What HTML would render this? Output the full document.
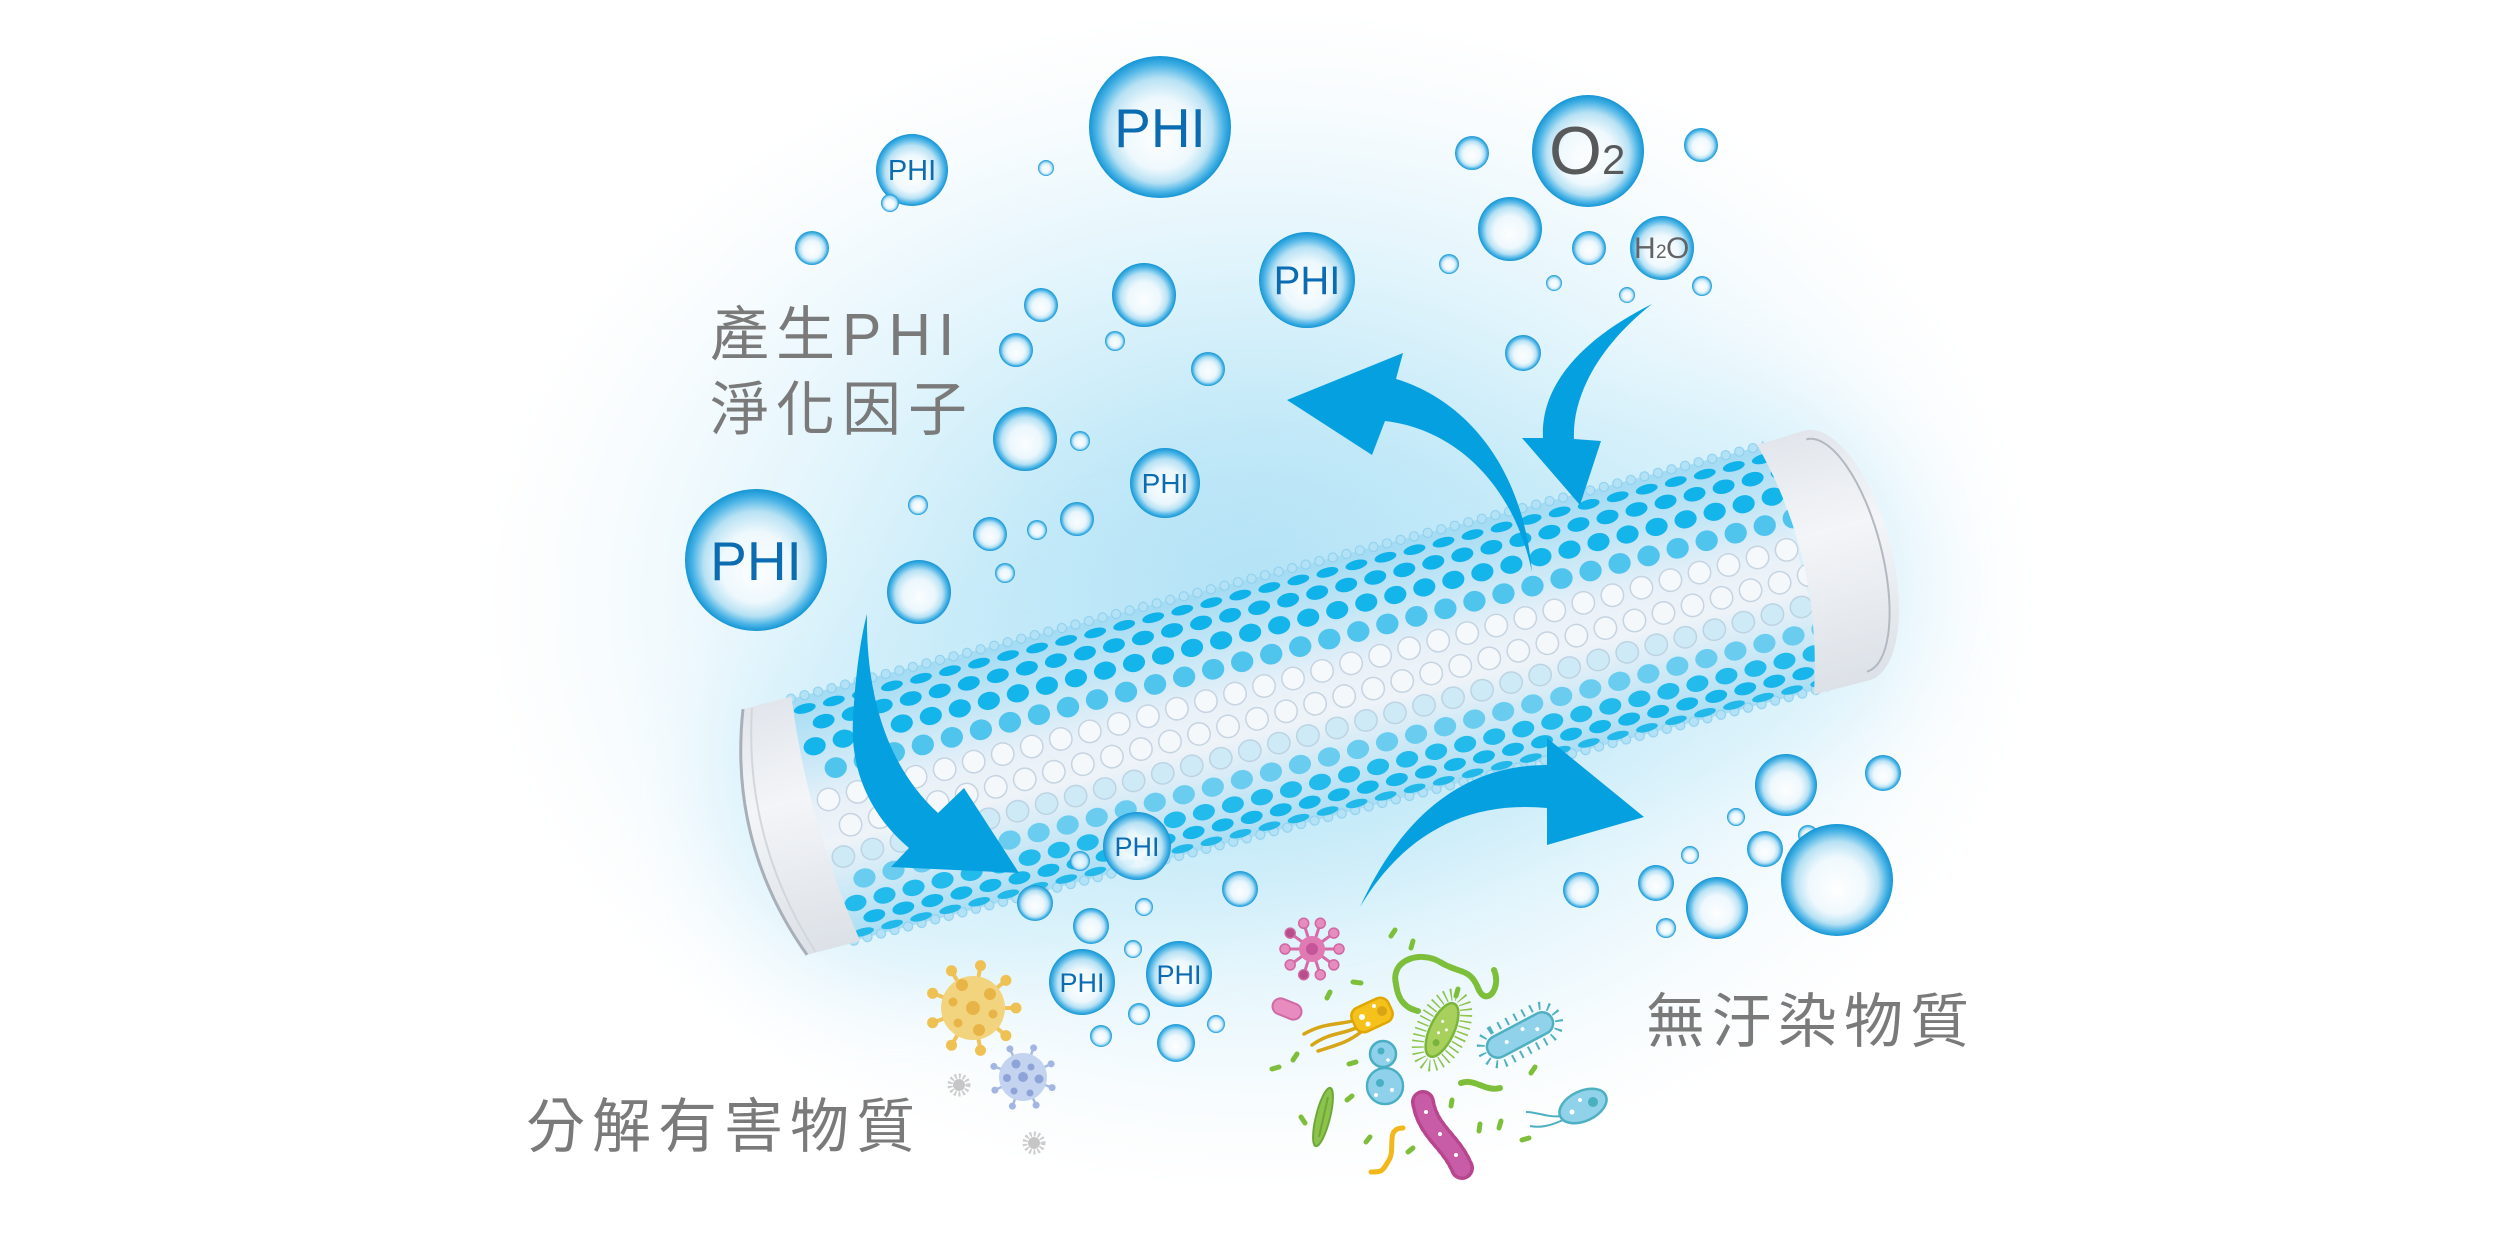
<!DOCTYPE html>
<html><head><meta charset="utf-8">
<style>
html,body{margin:0;padding:0;background:#fff;}
body{width:2500px;height:1250px;overflow:hidden;}
svg{display:block;}
.lbl{font-family:"Liberation Sans","Noto Sans CJK TC",sans-serif;font-size:59px;fill:#7a7a7a;letter-spacing:7px;}
.phi{font-family:"Liberation Sans",sans-serif;fill:#0b6cb2;text-anchor:middle;}
</style></head>
<body>
<svg width="2500" height="1250" viewBox="0 0 2500 1250" xmlns="http://www.w3.org/2000/svg">
<defs>
  <radialGradient id="bgG" cx="0.5" cy="0.5" r="0.5">
    <stop offset="0" stop-color="#acdff5"/>
    <stop offset="0.3" stop-color="#c3e9f8"/>
    <stop offset="0.6" stop-color="#e3f5fc"/>
    <stop offset="0.85" stop-color="#f8fcfe"/>
    <stop offset="1" stop-color="#ffffff"/>
  </radialGradient>
  <radialGradient id="bub" cx="0.5" cy="0.5" r="0.5" fx="0.5" fy="0.6">
    <stop offset="0" stop-color="#ffffff" stop-opacity="0.92"/>
    <stop offset="0.5" stop-color="#eef8fd" stop-opacity="0.9"/>
    <stop offset="0.74" stop-color="#b6e1f4"/>
    <stop offset="0.9" stop-color="#47b2e5"/>
    <stop offset="1" stop-color="#1595d5"/>
  </radialGradient>
  <linearGradient id="meshG" x1="0" y1="0" x2="0" y2="1">
    <stop offset="0" stop-color="#a2dbf3"/>
    <stop offset="0.2" stop-color="#c0e5f6"/>
    <stop offset="0.45" stop-color="#e9f1f8"/>
    <stop offset="0.6" stop-color="#eef3f8"/>
    <stop offset="0.8" stop-color="#cbe8f6"/>
    <stop offset="1" stop-color="#a8ddf4"/>
  </linearGradient>
  <linearGradient id="capG" x1="0" y1="0" x2="0" y2="1">
    <stop offset="0" stop-color="#e2e6ec"/>
    <stop offset="0.4" stop-color="#f3f5f8"/>
    <stop offset="1" stop-color="#dce1e7"/>
  </linearGradient>
  <filter id="blur" x="-30%" y="-60%" width="160%" height="220%">
    <feGaussianBlur stdDeviation="45"/>
  </filter>
  <pattern id="bumpP" patternUnits="userSpaceOnUse" x="0" y="0" width="14" height="10">
    <circle cx="7" cy="5" r="4.6" fill="#b3e1f5" stroke="#8ccfee" stroke-width="1"/>
  </pattern>
  <g id="dr">
    <circle cx="0" cy="0" r="11.2"/><circle cx="30" cy="0" r="11.2"/><circle cx="60" cy="0" r="11.2"/><circle cx="90" cy="0" r="11.2"/><circle cx="120" cy="0" r="11.2"/><circle cx="150" cy="0" r="11.2"/><circle cx="180" cy="0" r="11.2"/><circle cx="210" cy="0" r="11.2"/><circle cx="240" cy="0" r="11.2"/><circle cx="270" cy="0" r="11.2"/><circle cx="300" cy="0" r="11.2"/><circle cx="330" cy="0" r="11.2"/><circle cx="360" cy="0" r="11.2"/><circle cx="390" cy="0" r="11.2"/><circle cx="420" cy="0" r="11.2"/><circle cx="450" cy="0" r="11.2"/><circle cx="480" cy="0" r="11.2"/><circle cx="510" cy="0" r="11.2"/><circle cx="540" cy="0" r="11.2"/><circle cx="570" cy="0" r="11.2"/><circle cx="600" cy="0" r="11.2"/><circle cx="630" cy="0" r="11.2"/><circle cx="660" cy="0" r="11.2"/><circle cx="690" cy="0" r="11.2"/><circle cx="720" cy="0" r="11.2"/><circle cx="750" cy="0" r="11.2"/><circle cx="780" cy="0" r="11.2"/><circle cx="810" cy="0" r="11.2"/><circle cx="840" cy="0" r="11.2"/><circle cx="870" cy="0" r="11.2"/><circle cx="900" cy="0" r="11.2"/><circle cx="930" cy="0" r="11.2"/><circle cx="960" cy="0" r="11.2"/><circle cx="990" cy="0" r="11.2"/>
  </g>
</defs>

<rect x="0" y="0" width="2500" height="1250" fill="#ffffff"/>
<ellipse cx="1260" cy="600" rx="780" ry="590" fill="url(#bgG)"/>

<g transform="translate(775,832) rotate(-14.6)">
  <rect x="-60" y="-190" width="1240" height="380" rx="190" fill="#bfe8f8" opacity="0.4" filter="url(#blur)"/>
  <rect x="40" y="-125" width="1020" height="250" fill="url(#meshG)"/>
  <rect x="40" y="-130" width="1015" height="10" fill="url(#bumpP)"/>
  <rect x="40" y="120" width="1015" height="10" fill="url(#bumpP)"/>
  <use href="#dr" transform="translate(60,-112) scale(1,0.42)" fill="#0fb2e9"/>
  <use href="#dr" transform="translate(75,-95) scale(1,0.62)" fill="#0fb2e9"/>
  <use href="#dr" transform="translate(60,-73) scale(1,0.80)" fill="#14b5ea"/>
  <use href="#dr" transform="translate(75,-47) scale(1,0.92)" fill="#4fc4ed"/>
  <use href="#dr" transform="translate(60,-18) scale(1,1)" fill="#f6f9fc" stroke="#c6d4e1" stroke-width="1.5"/>
  <use href="#dr" transform="translate(75,12) scale(1,1)" fill="#f4f8fb" stroke="#c6d4e1" stroke-width="1.5"/>
  <use href="#dr" transform="translate(60,41) scale(1,0.95)" fill="#cfeaf7" stroke="#bcd3e2" stroke-width="1.5"/>
  <use href="#dr" transform="translate(75,67) scale(1,0.85)" fill="#6acdf0"/>
  <use href="#dr" transform="translate(60,89) scale(1,0.72)" fill="#22bbeb"/>
  <use href="#dr" transform="translate(75,106) scale(1,0.55)" fill="#16b5ea"/>
  <use href="#dr" transform="translate(60,119) scale(1,0.35)" fill="#22b9ea"/>
  <path d="M50,-127 L0,-127 Q-48,0 0,127 L55,127 Q34,0 50,-127 Z" fill="url(#capG)"/>
  <path d="M0,-127 Q-48,0 0,127" fill="none" stroke="#a9afb8" stroke-width="3"/>
  <path d="M9,-126 Q-32,0 9,126" fill="none" stroke="#d2d7dd" stroke-width="2"/>
  <path d="M1048,-127 L1097,-129 A55,129 0 0 1 1097,129 L1040,129 Q1082,0 1048,-127 Z" fill="url(#capG)"/>
  <path d="M1097,-120 A45,120 0 0 1 1097,120" fill="none" stroke="#b3b9c1" stroke-width="2"/>
</g>

<g>
  <circle cx="1160" cy="127" r="71" fill="url(#bub)"/>
  <circle cx="912" cy="170" r="36" fill="url(#bub)"/>
  <circle cx="890" cy="203" r="9" fill="url(#bub)"/>
  <circle cx="1046" cy="168" r="8" fill="url(#bub)"/>
  <circle cx="812" cy="248" r="17" fill="url(#bub)"/>
  <circle cx="1307" cy="280" r="48" fill="url(#bub)"/>
  <circle cx="1144" cy="295" r="32" fill="url(#bub)"/>
  <circle cx="1041" cy="305" r="17" fill="url(#bub)"/>
  <circle cx="1115" cy="341" r="10" fill="url(#bub)"/>
  <circle cx="1016" cy="350" r="17" fill="url(#bub)"/>
  <circle cx="1208" cy="369" r="17" fill="url(#bub)"/>
  <circle cx="1025" cy="439" r="32" fill="url(#bub)"/>
  <circle cx="1080" cy="441" r="10" fill="url(#bub)"/>
  <circle cx="1165" cy="483" r="35" fill="url(#bub)"/>
  <circle cx="918" cy="505" r="10" fill="url(#bub)"/>
  <circle cx="990" cy="534" r="17" fill="url(#bub)"/>
  <circle cx="1037" cy="530" r="10" fill="url(#bub)"/>
  <circle cx="1077" cy="519" r="17" fill="url(#bub)"/>
  <circle cx="1005" cy="573" r="10" fill="url(#bub)"/>
  <circle cx="919" cy="592" r="32" fill="url(#bub)"/>
  <circle cx="756" cy="560" r="71" fill="url(#bub)"/>
  <circle cx="1588" cy="151" r="56" fill="url(#bub)"/>
  <circle cx="1472" cy="153" r="17" fill="url(#bub)"/>
  <circle cx="1701" cy="145" r="17" fill="url(#bub)"/>
  <circle cx="1510" cy="229" r="32" fill="url(#bub)"/>
  <circle cx="1589" cy="248" r="17" fill="url(#bub)"/>
  <circle cx="1662" cy="248" r="32" fill="url(#bub)"/>
  <circle cx="1449" cy="264" r="10" fill="url(#bub)"/>
  <circle cx="1554" cy="283" r="8" fill="url(#bub)"/>
  <circle cx="1627" cy="295" r="8" fill="url(#bub)"/>
  <circle cx="1702" cy="286" r="10" fill="url(#bub)"/>
  <circle cx="1523" cy="353" r="18" fill="url(#bub)"/>
  <circle cx="1137" cy="846" r="34" fill="url(#bub)"/>
  <circle cx="1080" cy="861" r="10" fill="url(#bub)"/>
  <circle cx="1035" cy="903" r="18" fill="url(#bub)"/>
  <circle cx="1240" cy="889" r="18" fill="url(#bub)"/>
  <circle cx="1091" cy="926" r="18" fill="url(#bub)"/>
  <circle cx="1144" cy="907" r="9" fill="url(#bub)"/>
  <circle cx="1133" cy="949" r="9" fill="url(#bub)"/>
  <circle cx="1082" cy="982" r="33" fill="url(#bub)"/>
  <circle cx="1179" cy="974" r="33" fill="url(#bub)"/>
  <circle cx="1139" cy="1014" r="11" fill="url(#bub)"/>
  <circle cx="1101" cy="1036" r="11" fill="url(#bub)"/>
  <circle cx="1176" cy="1043" r="19" fill="url(#bub)"/>
  <circle cx="1216" cy="1024" r="9" fill="url(#bub)"/>
  <circle cx="1786" cy="785" r="31" fill="url(#bub)"/>
  <circle cx="1883" cy="773" r="18" fill="url(#bub)"/>
  <circle cx="1736" cy="817" r="9" fill="url(#bub)"/>
  <circle cx="1765" cy="849" r="18" fill="url(#bub)"/>
  <circle cx="1808" cy="835" r="10" fill="url(#bub)"/>
  <circle cx="1837" cy="880" r="56" fill="url(#bub)"/>
  <circle cx="1690" cy="855" r="9" fill="url(#bub)"/>
  <circle cx="1581" cy="890" r="18" fill="url(#bub)"/>
  <circle cx="1656" cy="883" r="18" fill="url(#bub)"/>
  <circle cx="1717" cy="908" r="31" fill="url(#bub)"/>
  <circle cx="1666" cy="928" r="10" fill="url(#bub)"/>
</g>

<text class="phi" x="1160" y="147" font-size="55">PHI</text>
<text class="phi" x="912" y="180" font-size="29">PHI</text>
<text class="phi" x="1307" y="294" font-size="40">PHI</text>
<text class="phi" x="1165" y="493" font-size="28">PHI</text>
<text class="phi" x="756" y="580" font-size="55">PHI</text>
<text class="phi" x="1137" y="856" font-size="27">PHI</text>
<text class="phi" x="1082" y="992" font-size="27">PHI</text>
<text class="phi" x="1179" y="984" font-size="27">PHI</text>
<text x="1549" y="174" font-family="Liberation Sans, sans-serif" font-size="68" fill="#58595b">O</text>
<text x="1602" y="174" font-family="Liberation Sans, sans-serif" font-size="42" fill="#58595b">2</text>
<text x="1634" y="258" font-family="Liberation Sans, sans-serif" font-size="30" fill="#626366">H</text>
<text x="1656" y="258" font-family="Liberation Sans, sans-serif" font-size="19" fill="#626366">2</text>
<text x="1666" y="258" font-family="Liberation Sans, sans-serif" font-size="30" fill="#626366">O</text>

<g fill="#05a0e0">
  <path d="M867,614 C866,680 880,760 938,813 L964,788 L1019,873 L891,867 L909,848 C870,815 850,770 853,720 C855,680 860,640 867,614 Z"/>
  <path d="M1287,400 L1403,353 L1396,379 C1460,398 1522,460 1532,572 C1515,490 1460,430 1385,421 L1372,455 Z"/>
  <path d="M1652,304 C1590,335 1540,380 1543,438 L1522,438 L1580,505 L1601,441 L1574,439 C1572,395 1600,345 1652,304 Z"/>
  <path d="M1360,907 C1400,820 1460,765 1547,765 L1547,738 L1644,817 L1547,845 L1547,808 C1460,800 1400,840 1360,907 Z"/>
</g>

<g transform="translate(973,1008)">
  <path d="M30,0L40,0 M23,19.3L30.6,25.7 M5.2,29.5L7,39.4 M-15,26L-20,34.6 M-28.2,10.3L-37.6,13.7 M-28.2,-10.3L-37.6,-13.7 M-15,-26L-20,-34.6 M5.2,-29.5L7,-39.4 M23,-19.3L30.6,-25.7" stroke="#f0c458" stroke-width="4"/>
  <g fill="#efc052">
    <circle cx="43" cy="0" r="5.5"/><circle cx="32.9" cy="27.6" r="5.5"/><circle cx="7.5" cy="42.4" r="5.5"/><circle cx="-21.5" cy="37.2" r="5.5"/><circle cx="-40.4" cy="14.7" r="5.5"/><circle cx="-40.4" cy="-14.7" r="5.5"/><circle cx="-21.5" cy="-37.2" r="5.5"/><circle cx="7.5" cy="-42.4" r="5.5"/><circle cx="32.9" cy="-27.6" r="5.5"/>
  </g>
  <circle r="32" fill="#f3d47e"/>
  <g fill="#e8b448">
    <circle cx="0" cy="0" r="7"/><circle cx="-11" cy="-23" r="6"/><circle cx="17" cy="-14" r="6"/><circle cx="-20" cy="-6" r="4.5"/><circle cx="20" cy="6" r="4.5"/><circle cx="-15" cy="15" r="4.5"/><circle cx="6" cy="22" r="6"/>
  </g>
</g>
<g transform="translate(1023,1077)">
  <path d="M20.7,7.5L27.3,9.9 M9.3,19.9L12.3,26.3 M-7.5,20.7L-9.9,27.3 M-19.9,9.3L-26.3,12.3 M-20.7,-7.5L-27.3,-9.9 M-9.3,-19.9L-12.3,-26.3 M7.5,-20.7L9.9,-27.3 M19.9,-9.3L26.3,-12.3" stroke="#a9bbe5" stroke-width="2.5"/>
  <g fill="#a3b6e3">
    <circle cx="29.1" cy="10.6" r="3.5"/><circle cx="13.1" cy="28.1" r="3.5"/><circle cx="-10.6" cy="29.1" r="3.5"/><circle cx="-28.1" cy="13.1" r="3.5"/><circle cx="-29.1" cy="-10.6" r="3.5"/><circle cx="-13.1" cy="-28.1" r="3.5"/><circle cx="10.6" cy="-29.1" r="3.5"/><circle cx="28.1" cy="-13.1" r="3.5"/>
  </g>
  <circle r="24" fill="#c4d3ef"/>
  <g fill="#8ea4d8">
    <circle cx="-7" cy="-13" r="4.5"/><circle cx="8" cy="-10" r="3.5"/><circle cx="0" cy="0" r="5"/><circle cx="-16" cy="1" r="4"/><circle cx="16" cy="2" r="4.5"/><circle cx="-9" cy="14" r="3.5"/><circle cx="7" cy="16" r="3.5"/>
  </g>
</g>
<g>
  <circle cx="959" cy="1085" r="6" fill="#c6c6c6"/>
  <circle cx="959" cy="1085" r="9" fill="none" stroke="#cdcdcd" stroke-width="5" stroke-dasharray="2 2.2"/>
  <circle cx="1034" cy="1143" r="6" fill="#c6c6c6"/>
  <circle cx="1034" cy="1143" r="9" fill="none" stroke="#cdcdcd" stroke-width="5" stroke-dasharray="2 2.2"/>
</g>

<g transform="translate(1312,949)">
  <path d="M10,0L24,0 M8.1,5.9L19.4,14.1 M3.1,9.5L7.4,22.8 M-3.1,9.5L-7.4,22.8 M-8.1,5.9L-19.4,14.1 M-10,0L-24,0 M-8.1,-5.9L-19.4,-14.1 M-3.1,-9.5L-7.4,-22.8 M3.1,-9.5L7.4,-22.8 M8.1,-5.9L19.4,-14.1" stroke="#d86aa8" stroke-width="3"/>
  <g fill="#e88bbf" stroke="#cf67a3" stroke-width="1.5">
    <circle cx="27" cy="0" r="5"/><circle cx="21.8" cy="15.9" r="5"/><circle cx="8.3" cy="25.7" r="5"/><circle cx="-8.3" cy="25.7" r="5" fill="#b84d8c"/><circle cx="-21.8" cy="15.9" r="5"/><circle cx="-27" cy="0" r="5"/><circle cx="-21.8" cy="-15.9" r="5" fill="#b84d8c"/><circle cx="-8.3" cy="-25.7" r="5"/><circle cx="8.3" cy="-25.7" r="5"/><circle cx="21.8" cy="-15.9" r="5"/>
  </g>
  <circle r="13" fill="#e07ab3"/>
  <circle r="6" fill="#c4559a"/>
</g>
<rect x="1272" y="1001" width="30" height="16" rx="8" transform="rotate(22 1287 1009)" fill="#e88cc0" stroke="#cf6aa5" stroke-width="2"/>
<g fill="none" stroke="#d7a617" stroke-width="3.5" stroke-linecap="round">
  <path d="M1356,1020 C1340,1025 1325,1022 1304,1034"/>
  <path d="M1358,1027 C1342,1035 1330,1032 1312,1045"/>
  <path d="M1361,1032 C1348,1042 1340,1044 1318,1051"/>
</g>
<rect x="1352" y="1002" width="40" height="26" rx="9" transform="rotate(-25 1372 1015)" fill="#f5c21b" stroke="#e0a700" stroke-width="2.5"/>
<circle cx="1382" cy="1011" r="5" fill="#d9a514"/>
<circle cx="1362" cy="1017" r="3" fill="#fff"/><circle cx="1368" cy="1024" r="2.5" fill="#fff"/><circle cx="1374" cy="1006" r="2" fill="#fff"/>
<g fill="none" stroke="#7dbf3a" stroke-width="6" stroke-linecap="round" stroke-dasharray="7 2">
  <path d="M1396,984 C1390,960 1420,950 1440,962 S1470,968 1478,988 S1502,988 1494,970"/>
  <path d="M1396,984 C1398,1000 1405,1008 1418,1011"/>
  <path d="M1461,1083 C1475,1078 1485,1092 1500,1088"/>
</g>
<g transform="translate(1442,1030) rotate(25)">
  <ellipse rx="20" ry="38" fill="none" stroke="#8cc34a" stroke-width="12" stroke-dasharray="1.5 4.5"/>
  <ellipse rx="12" ry="29" fill="#a8d05c" stroke="#7bb53a" stroke-width="2.5"/>
  <circle cx="0" cy="14" r="3.5" fill="#79b43a"/>
  <circle cx="-3" cy="-8" r="1.5" fill="#fff"/><circle cx="4" cy="-2" r="1.5" fill="#fff"/><circle cx="-2" cy="4" r="1.5" fill="#fff"/>
</g>
<g transform="translate(1520,1035) rotate(-28)">
  <rect x="-42" y="-18" width="84" height="36" rx="18" fill="none" stroke="#4fb0c2" stroke-width="8" stroke-dasharray="2 7"/>
  <rect x="-36" y="-11" width="72" height="22" rx="11" fill="#8fd2ea" stroke="#4fb0c2" stroke-width="2.5"/>
  <circle cx="-15" cy="0" r="2" fill="#fff"/><circle cx="5" cy="-4" r="2" fill="#fff"/><circle cx="18" cy="3" r="2" fill="#fff"/>
</g>
<g fill="#8fd1ea" stroke="#4aaec4" stroke-width="2.5">
  <circle cx="1385" cy="1086" r="18"/>
  <circle cx="1383" cy="1054" r="13"/>
</g>
<circle cx="1385" cy="1086" r="16.8" fill="#8fd1ea"/>
<circle cx="1380" cy="1083" r="4" fill="#4aaec4"/><circle cx="1381" cy="1051" r="3.5" fill="#4aaec4"/>
<circle cx="1392" cy="1090" r="2" fill="#fff"/><circle cx="1376" cy="1095" r="2" fill="#fff"/><circle cx="1388" cy="1060" r="1.8" fill="#fff"/>
<ellipse cx="1323" cy="1117" rx="7" ry="30" transform="rotate(14 1323 1117)" fill="#8cc34a" stroke="#6fa83a" stroke-width="2"/>
<line x1="1328" y1="1097" x2="1319" y2="1137" stroke="#6fa83a" stroke-width="2"/>
<path d="M1403,1128 C1385,1128 1396,1148 1389,1160 S1382,1172 1371,1172" fill="none" stroke="#f2b81b" stroke-width="5" stroke-linecap="round"/>
<path d="M1423,1102 C1428,1132 1450,1140 1462,1168" fill="none" stroke="#b8468f" stroke-width="24" stroke-linecap="round" stroke-dasharray="3 4"/>
<path d="M1423,1102 C1428,1132 1450,1140 1462,1168" fill="none" stroke="#c95ca6" stroke-width="17" stroke-linecap="round"/>
<circle cx="1426" cy="1112" r="2" fill="#fff"/><circle cx="1440" cy="1134" r="2" fill="#fff"/><circle cx="1456" cy="1155" r="2" fill="#fff"/>
<g fill="none" stroke="#4fb0c2" stroke-width="2">
  <path d="M1562,1116 C1548,1118 1538,1112 1526,1112"/>
  <path d="M1563,1120 C1550,1126 1540,1128 1530,1126"/>
</g>
<ellipse cx="1583" cy="1106" rx="25" ry="15" transform="rotate(-25 1583 1106)" fill="#8fd2ea" stroke="#4fb0c2" stroke-width="2.5"/>
<circle cx="1593" cy="1102" r="5" fill="#4ab0c0"/>
<circle cx="1572" cy="1112" r="2.5" fill="#fff"/><circle cx="1580" cy="1100" r="2" fill="#fff"/>
<g stroke="#7dbf3a" stroke-width="5" stroke-linecap="round">
  <line x1="1391" y1="936" x2="1395" y2="930"/>
  <line x1="1411" y1="948" x2="1413" y2="941"/>
  <line x1="1353" y1="982" x2="1361" y2="983"/>
  <line x1="1327" y1="998" x2="1330" y2="992"/>
  <line x1="1293" y1="1060" x2="1297" y2="1054"/>
  <line x1="1272" y1="1069" x2="1279" y2="1067"/>
  <line x1="1349" y1="1064" x2="1356" y2="1062"/>
  <line x1="1347" y1="1100" x2="1352" y2="1096"/>
  <line x1="1301" y1="1117" x2="1305" y2="1123"/>
  <line x1="1366" y1="1142" x2="1370" y2="1137"/>
  <line x1="1408" y1="1152" x2="1413" y2="1148"/>
  <line x1="1451" y1="1106" x2="1452" y2="1100"/>
  <line x1="1479" y1="1131" x2="1480" y2="1124"/>
  <line x1="1499" y1="1128" x2="1501" y2="1121"/>
  <line x1="1522" y1="1140" x2="1529" y2="1138"/>
  <line x1="1531" y1="1073" x2="1535" y2="1067"/>
  <line x1="1456" y1="996" x2="1458" y2="989"/>
</g>

<text class="lbl" x="710" y="355">產生PHI</text>
<text class="lbl" x="710" y="430">淨化因子</text>
<text class="lbl" x="526" y="1147">分解有害物質</text>
<text class="lbl" x="1646" y="1042">無汙染物質</text>
</svg>
</body></html>
